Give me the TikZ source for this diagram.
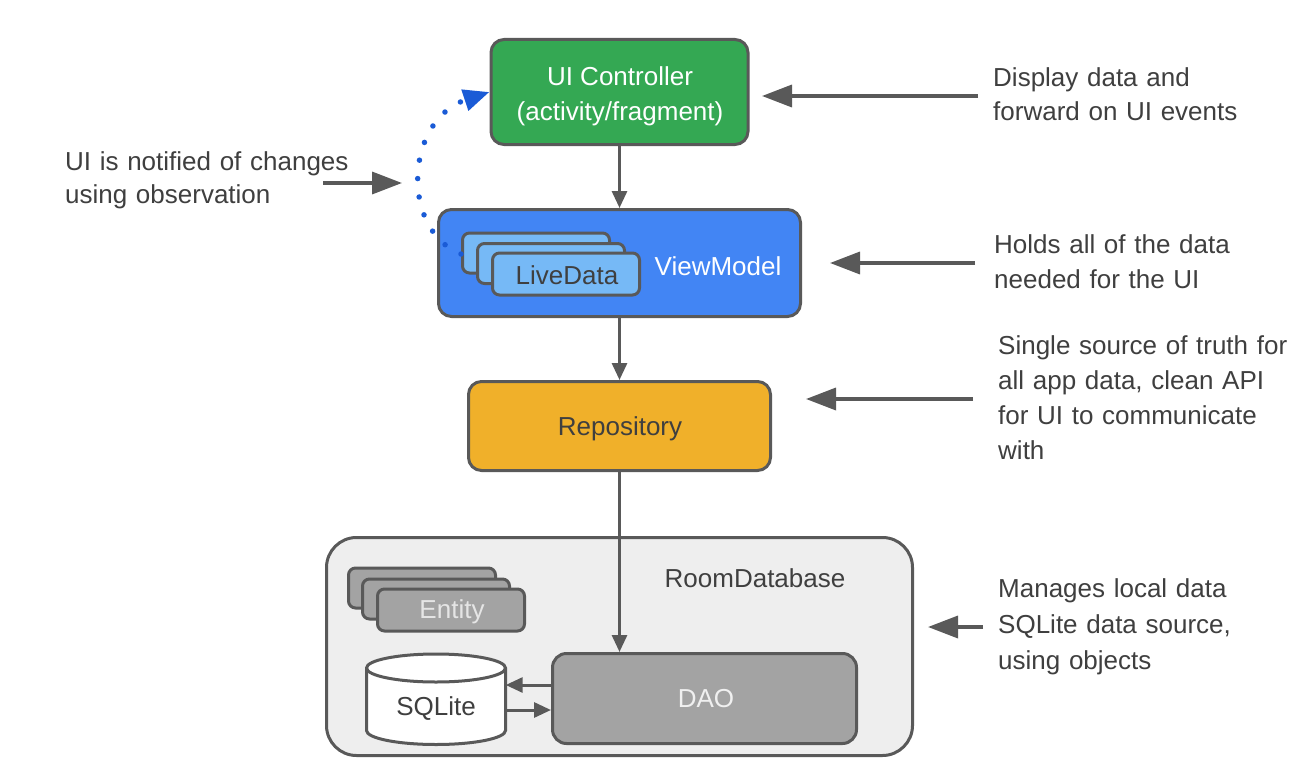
\documentclass[tikz,border=0pt]{standalone}
\usepackage{fontspec}
\setmainfont{Liberation Sans}
\usetikzlibrary{arrows.meta}
\definecolor{lineg}{HTML}{595959}
\definecolor{txtg}{HTML}{3F3F3F}
\definecolor{ggreen}{HTML}{34A853}
\definecolor{gblue}{HTML}{4285F4}
\definecolor{lblue}{HTML}{76B9F6}
\definecolor{amber}{HTML}{F0B02A}
\definecolor{roombg}{HTML}{EEEEEE}
\definecolor{midg}{HTML}{A3A3A3}
\definecolor{dotblue}{HTML}{1A5BD6}
\begin{document}
\begin{tikzpicture}[x=1pt,y=-1pt,
 txt/.style={font=\fontsize{26}{35}\selectfont},
 box/.style={draw=lineg, line width=3pt, rounded corners=13pt, inner sep=0pt, txt},
 card/.style={draw=lineg, line width=3pt, rounded corners=7pt, inner sep=0pt, minimum width=147pt, minimum height=40pt, txt},
 lab/.style={txt, inner sep=0pt},
 note/.style={txt, text=txtg, text width=320pt, align=left, anchor=base west, inner sep=0pt},
 arr/.style={draw=lineg, line width=3pt, -{Triangle[length=17pt,width=15pt]}},
 bigarr/.style={draw=lineg, line width=3.5pt, -{Triangle[length=30pt,width=22pt]}},
 obs/.style={draw=dotblue, line width=5.5pt, line cap=round, dash pattern=on 0pt off 18.5pt, -{Triangle[length=26pt,width=21pt]}}
]
\useasboundingbox[fill=white] (0,0) rectangle (1304,768);

% main boxes
\node[box, fill=ggreen, minimum width=257pt, minimum height=105pt] (ui) at (619.5,92) {};
\node[lab, text=white, align=center] (uilabel) at (620,96) {UI Controller\\(activity/fragment)};
\node[box, fill=gblue, minimum width=362pt, minimum height=107pt] (vm) at (619.5,263) {};
\node[lab, text=white] (vmlabel) at (718,266) {ViewModel};
\node[card, fill=lblue] (ld1) at (536,253) {};
\node[card, fill=lblue] (ld2) at (551,263.5) {};
\node[card, fill=lblue, minimum height=42pt] (ld3) at (566,274) {};
\node[lab, text=txtg] (ldlabel) at (567,275) {LiveData};

\node[box, fill=amber, minimum width=302pt, minimum height=89pt] (repo) at (619.5,426) {};
\node[lab, text=txtg] (repolabel) at (620,429) {Repository};

\node[box, fill=roombg, rounded corners=30pt, minimum width=586pt, minimum height=218pt] (room) at (619.5,646.5) {};
\node[lab, text=txtg] (roomlabel) at (755,578) {RoomDatabase};

\node[card, fill=midg] (en1) at (422,588) {};
\node[card, fill=midg] (en2) at (436,599) {};
\node[card, fill=midg, minimum height=42pt] (en3) at (451,610) {};
\node[lab, text=white!90!black] (enlabel) at (452,612) {Entity};

\node[box, fill=midg, rounded corners=14pt, minimum width=304pt, minimum height=90pt] (dao) at (704.5,698.5) {};
\node[lab, text=white!94!black] (daolabel) at (706,699) {DAO};

% SQLite cylinder
\draw[draw=lineg, line width=3pt, fill=white] (366.5,668) -- (366.5,730.5)
  arc[start angle=180, end angle=360, x radius=69.5pt, y radius=14pt] -- (505.5,668)
  arc[start angle=0, end angle=180, x radius=69.5pt, y radius=14pt] -- cycle;
\draw[draw=lineg, line width=3pt] (366.5,668) arc[start angle=180, end angle=360, x radius=69.5pt, y radius=14pt];
\node[lab, text=txtg, minimum width=139pt, minimum height=60pt] (sql) at (436,709) {SQLite};

% connectors
\draw[arr] (ui.south) -- (vm.north);
\draw[arr] (vm.south) -- (repo.north);
\draw[arr] (repo.south) -- (repo.south |- dao.north);
\draw[arr] (dao.west |- 0,685) -- (sql.east |- 0,685);
\draw[arr] (sql.east |- 0,710) -- (dao.west |- 0,710);

% observation arc
\coordinate (obsS) at (461,254);
\draw[obs] (obsS) .. controls (400,230) and (405,120) .. (ui.west);

% notes
\node[note, font=\fontsize{26}{33}\selectfont] (n0) at (65,170) {UI is notified of changes\\using observation};
\node[note] (n1) at (993,86) {Display data and\\forward on UI events};
\node[note] (n2) at (994,253) {Holds all of the data\\needed for the UI};
\node[note] (n3) at (998,354) {Single source of truth for\\all app data, clean API\\for UI to communicate\\with};
\node[note, font=\fontsize{26}{36}\selectfont] (n4) at (998,597) {Manages local data\\SQLite data source,\\using objects};

\coordinate (a0s) at (323,183); \coordinate (a0e) at (402,183);
\coordinate (a1s) at (978,96);  \coordinate (a1e) at (762,96);
\coordinate (a2s) at (975,263); \coordinate (a2e) at (830,263);
\coordinate (a3s) at (973,399); \coordinate (a3e) at (806,399);
\coordinate (a4s) at (983,627); \coordinate (a4e) at (928,627);
\draw[bigarr] (a0s) -- (a0e);
\draw[bigarr] (a1s) -- (a1e);
\draw[bigarr] (a2s) -- (a2e);
\draw[bigarr] (a3s) -- (a3e);
\draw[bigarr] (a4s) -- (a4e);
\end{tikzpicture}
\end{document}
